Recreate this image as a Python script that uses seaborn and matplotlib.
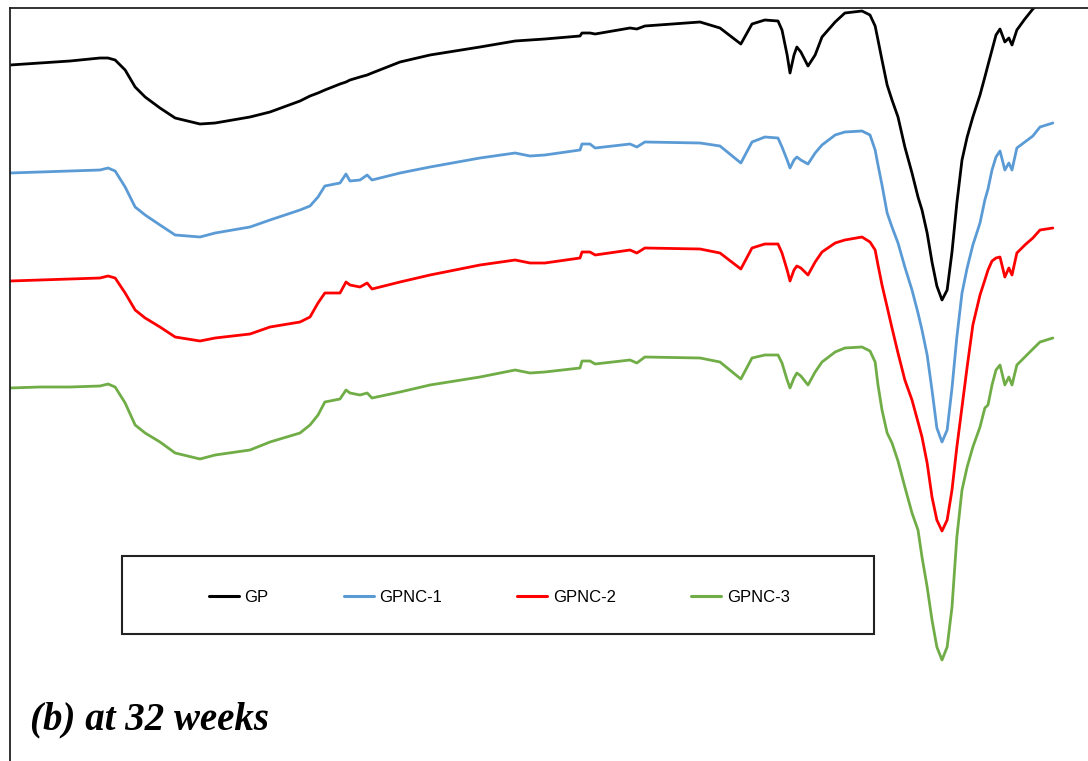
import matplotlib
matplotlib.use("Agg")
import matplotlib.pyplot as plt
import seaborn as sns
import pandas as pd
from matplotlib.patches import Rectangle
from matplotlib.lines import Line2D

# Wavenumber grid (cm^-1), axis hidden in original
wavenumber = [4000, 3895, 3790, 3685, 3657, 3632, 3597, 3562, 3527, 3475,
              3422, 3335, 3282, 3160, 3090, 2985, 2950, 2922, 2898, 2845,
              2824, 2810, 2775, 2750, 2733, 2635, 2530, 2355, 2232, 2180,
              2128, 2005, 1998, 1970, 1952, 1830, 1806, 1778, 1585, 1515,
              1442, 1403, 1358, 1312, 1298, 1280, 1270, 1256, 1246, 1232,
              1207, 1182, 1158, 1112, 1078, 1018, 990, 972, 962, 948,
              930, 913, 892, 868, 843, 822, 808, 790, 773, 756,
              738, 720, 703, 686, 668, 650, 630, 605, 588, 577,
              563, 549, 535, 518, 504, 493, 476, 448, 420, 395, 350]

gp = [73.5, 73.7, 73.9, 74.2, 74.2, 74.0, 73.0, 71.3, 70.3, 69.2,
      68.2, 67.6, 67.7, 68.3, 68.8, 69.9, 70.4, 70.7, 71.0, 71.6,
      71.8, 72.0, 72.3, 72.5, 72.7, 73.8, 74.5, 75.3, 75.9, 76.0,
      76.1, 76.4, 76.7, 76.7, 76.6, 77.2, 77.1, 77.4, 77.8, 77.2,
      75.6, 77.6, 78.0, 77.9, 77.0, 74.5, 72.7, 74.5, 75.3, 74.8,
      73.4, 74.5, 76.3, 77.8, 78.7, 78.9, 78.5, 77.4, 76.0, 74.0,
      71.5, 70.0, 68.3, 65.3, 62.7, 60.3, 59.0, 56.7, 53.8, 51.4,
      50.0, 51.0, 54.8, 59.7, 64.0, 66.3, 68.3, 70.5, 72.3, 73.5,
      75.0, 76.5, 77.1, 75.8, 76.2, 75.5, 77.0, 78.1, 79.1, 79.7, 80.3]

gpnc1 = [62.7, 62.8, 62.9, 63.0, 63.2, 62.9, 61.3, 59.3, 58.5, 57.5,
         56.5, 56.3, 56.7, 57.3, 58.0, 59.0, 59.4, 60.3, 61.4, 61.7,
         62.6, 61.9, 62.0, 62.5, 62.0, 62.7, 63.3, 64.2, 64.7, 64.4,
         64.5, 65.0, 65.6, 65.6, 65.2, 65.6, 65.3, 65.8, 65.7, 65.4,
         63.7, 65.8, 66.3, 66.2, 65.3, 64.0, 63.2, 64.0, 64.3, 64.0,
         63.6, 64.7, 65.5, 66.5, 66.8, 66.9, 66.5, 65.0, 63.5, 61.5,
         58.7, 57.3, 55.7, 53.3, 51.0, 48.7, 47.0, 44.5, 41.0, 37.2,
         35.8, 37.0, 41.2, 46.3, 50.7, 53.2, 55.5, 57.7, 60.0, 61.1,
         63.0, 64.3, 64.9, 63.0, 63.7, 63.0, 65.2, 65.8, 66.4, 67.3, 67.7]

gpnc2 = [51.9, 52.0, 52.1, 52.2, 52.4, 52.2, 50.7, 49.0, 48.2, 47.3,
         46.3, 45.9, 46.2, 46.6, 47.3, 47.8, 48.3, 49.7, 50.7, 50.7,
         51.8, 51.5, 51.3, 51.7, 51.1, 51.8, 52.5, 53.5, 54.0, 53.7,
         53.7, 54.2, 54.8, 54.8, 54.5, 55.0, 54.7, 55.2, 55.1, 54.7,
         53.1, 55.2, 55.6, 55.6, 54.7, 53.0, 51.9, 53.0, 53.4, 53.2,
         52.5, 53.8, 54.8, 55.7, 56.0, 56.3, 55.8, 55.0, 53.5, 51.5,
         49.3, 47.2, 44.7, 42.0, 40.0, 37.8, 36.3, 33.7, 30.3, 28.0,
         26.9, 28.0, 31.0, 35.3, 39.3, 43.3, 47.5, 50.5, 52.0, 53.0,
         53.9, 54.2, 54.3, 52.3, 53.2, 52.5, 54.7, 55.5, 56.2, 57.0, 57.2]

gpnc3 = [41.2, 41.3, 41.3, 41.4, 41.6, 41.3, 39.7, 37.5, 36.7, 35.8,
         34.7, 34.1, 34.5, 35.0, 35.8, 36.7, 37.5, 38.5, 39.8, 40.1,
         41.0, 40.7, 40.5, 40.7, 40.2, 40.8, 41.5, 42.3, 43.0, 42.7,
         42.8, 43.2, 43.9, 43.9, 43.6, 44.0, 43.7, 44.3, 44.2, 43.8,
         42.1, 44.2, 44.5, 44.5, 43.7, 42.0, 41.2, 42.2, 42.7, 42.4,
         41.5, 42.8, 43.8, 44.8, 45.2, 45.3, 44.9, 43.8, 41.5, 39.0,
         36.7, 35.7, 33.9, 31.3, 28.7, 27.0, 24.3, 21.3, 18.0, 15.3,
         14.0, 15.3, 19.3, 26.3, 31.0, 33.3, 35.3, 37.3, 39.2, 39.5,
         41.5, 43.0, 43.5, 41.5, 42.3, 41.5, 43.5, 44.3, 45.1, 45.8, 46.2]

series_names = ["GP", "GPNC-1", "GPNC-2", "GPNC-3"]
series_colors = ["#000000", "#5B9BD5", "#FF0000", "#70AD47"]
title_text = "(b) at 32 weeks"

frames = []
for name, vals in zip(series_names, [gp, gpnc1, gpnc2, gpnc3]):
    frames.append(pd.DataFrame({"wavenumber": wavenumber, "T": vals, "sample": name}))
df = pd.concat(frames, ignore_index=True)

sns.set_style("white")
fig = plt.figure(figsize=(10.88, 7.61), dpi=100)
ax = fig.add_axes([10 / 1088, 0.0, 1078 / 1088, 1 - 8 / 761])

sns.lineplot(data=df, x="wavenumber", y="T", hue="sample",
             palette=dict(zip(series_names, series_colors)),
             estimator=None, sort=False, linewidth=2.0, ax=ax, legend=False)

ax.set_xlim(4000, 227)
ax.set_ylim(3.9, 79.2)
ax.set_xticks([])
ax.set_yticks([])
ax.set_xlabel("")
ax.set_ylabel("")
for s in ["right", "bottom"]:
    ax.spines[s].set_visible(False)
for s in ["left", "top"]:
    ax.spines[s].set_visible(True)
    ax.spines[s].set_color("#222222")
    ax.spines[s].set_linewidth(1.3)

# Legend box
rect = Rectangle((122 / 1088, 1 - 634 / 761), (874 - 122) / 1088, (634 - 556) / 761,
                 transform=fig.transFigure, fill=False, edgecolor="#222222",
                 linewidth=1.5, zorder=5)
fig.patches.append(rect)
handles = [Line2D([0], [0], color=c, lw=2.2) for c in series_colors]
fig.legend(handles, series_names, loc="center", bbox_to_anchor=(0.459, 1 - 597 / 761),
           ncol=4, frameon=False, handlelength=1.8, handletextpad=0.35,
           columnspacing=4.5, labelcolor="black",
           prop={"family": ["Liberation Sans Narrow", "Liberation Sans", "DejaVu Sans"], "size": 12})

fig.text(30 / 1088, 1 - 720 / 761, title_text, fontsize=28, fontweight="bold",
         fontstyle="italic", family=["Liberation Serif", "DejaVu Serif"],
         color="black", ha="left", va="center")

fig.savefig("out.png", dpi=100)
